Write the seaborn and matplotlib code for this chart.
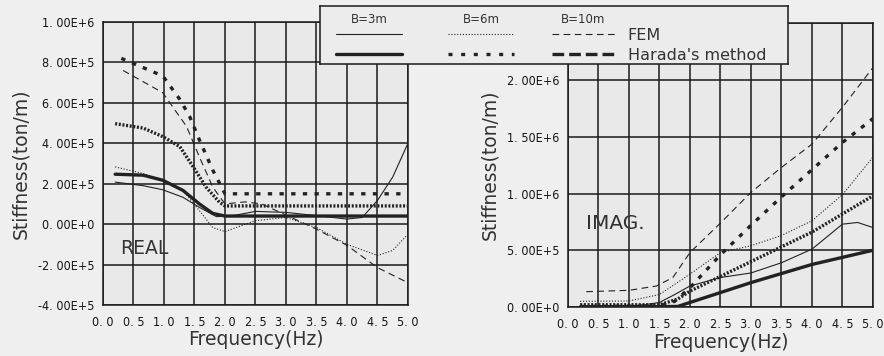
import numpy as np
import seaborn as sns
import matplotlib.pyplot as plt
from matplotlib import font_manager
from matplotlib.ticker import MultipleLocator, FuncFormatter

# ---- data (frequency in Hz, stiffness in ton/m) ----
# REAL part
r_fem3_f = [0.2, 0.66, 0.98, 1.31, 1.58, 1.86, 2.1, 2.5, 3.0, 3.5, 4.0, 4.25, 4.5, 4.75, 5.0]
r_fem3_k = [2.08e5, 1.9e5, 1.7e5, 1.33e5, 0.83e5, 0.37e5, 0.4e5, 0.63e5, 0.58e5, 0.42e5,
            0.25e5, 0.33e5, 1.17e5, 2.33e5, 4.0e5]
r_fem6_f = [0.2, 0.66, 0.98, 1.31, 1.58, 1.8, 2.0, 2.5, 3.0, 3.5, 4.0, 4.5, 4.75, 5.0]
r_fem6_k = [2.83e5, 2.5e5, 2.17e5, 1.67e5, 0.67e5, -0.17e5, -0.37e5, 0.17e5, 0.33e5,
            -0.17e5, -1.0e5, -1.55e5, -1.3e5, -0.5e5]
r_fem10_f = [0.33, 0.98, 1.37, 1.58, 1.8, 2.0, 2.33, 2.6, 3.0, 3.5, 4.0, 4.5, 5.0]
r_fem10_k = [7.6e5, 6.5e5, 4.83e5, 3.33e5, 1.83e5, 1.0e5, 1.1e5, 1.0e5, 0.45e5,
             -0.25e5, -1.05e5, -2.15e5, -2.9e5]
r_har3_f = [0.2, 0.66, 0.98, 1.31, 1.58, 1.8, 2.0, 5.0]
r_har3_k = [2.47e5, 2.42e5, 2.17e5, 1.67e5, 1.0e5, 0.53e5, 0.4e5, 0.4e5]
r_har6_f = [0.2, 0.66, 0.98, 1.26, 1.48, 1.69, 1.91, 2.0, 5.0]
r_har6_k = [4.97e5, 4.75e5, 4.33e5, 3.83e5, 2.83e5, 1.83e5, 1.08e5, 0.9e5, 0.9e5]
r_har10_f = [0.3, 0.98, 1.26, 1.42, 1.58, 1.8, 2.0, 5.0]
r_har10_k = [8.2e5, 7.33e5, 6.17e5, 5.33e5, 4.17e5, 2.67e5, 1.5e5, 1.5e5]

# IMAG part
i_fem3_f = [0.2, 1.2, 1.5, 1.75, 2.0, 2.5, 3.0, 3.5, 4.0, 4.5, 4.75, 5.0]
i_fem3_k = [0.01e6, 0.015e6, 0.04e6, 0.11e6, 0.185e6, 0.26e6, 0.30e6, 0.39e6,
            0.51e6, 0.73e6, 0.745e6, 0.70e6]
i_fem6_f = [0.2, 1.0, 1.5, 2.0, 2.5, 3.0, 3.5, 4.0, 4.5, 5.0]
i_fem6_k = [0.05e6, 0.053e6, 0.11e6, 0.29e6, 0.48e6, 0.54e6, 0.63e6, 0.76e6, 0.99e6, 1.32e6]
i_fem10_f = [0.3, 1.0, 1.45, 1.72, 2.0, 2.5, 3.0, 3.5, 4.0, 4.5, 5.0]
i_fem10_k = [0.135e6, 0.147e6, 0.185e6, 0.26e6, 0.48e6, 0.74e6, 1.01e6, 1.23e6,
             1.435e6, 1.76e6, 2.11e6]
i_har3_f = [0.2, 1.8, 2.0, 3.0, 4.0, 5.0]
i_har3_k = [0.0, 0.005e6, 0.04e6, 0.215e6, 0.375e6, 0.5e6]
i_har6_f = [0.2, 1.5, 1.8, 2.0, 2.5, 3.0, 3.5, 4.0, 4.5, 5.0]
i_har6_k = [0.02e6, 0.02e6, 0.07e6, 0.14e6, 0.27e6, 0.40e6, 0.53e6, 0.66e6, 0.82e6, 0.98e6]
i_har10_f = [0.2, 1.5, 1.75, 2.0, 2.5, 3.0, 3.5, 4.0, 4.5, 5.0]
i_har10_k = [0.005e6, 0.01e6, 0.05e6, 0.17e6, 0.46e6, 0.72e6, 0.97e6, 1.21e6, 1.45e6, 1.66e6]

widths = ["B=3m", "B=6m", "B=10m"]
methods = ["FEM", "Harada's method"]

# ---- styles ----
ink = "#222222"
thin, thick = 0.8, 2.4
fem_styles = ["-", (0, (1, 1.6)), (0, (6, 4))]
har_styles = ["-", (0, (0.6, 0.5)), (0, (1.3, 2.2))]

sns.set_style("white")
plt.rcParams["font.family"] = ["DejaVu Sans"]

# a condensed face for the tick numbers, if one is around
has_cond = any(f.name == "DejaVu Sans" and f.stretch == "condensed"
               for f in font_manager.fontManager.ttflist)
if has_cond:
    tick_kw = dict(family="DejaVu Sans", stretch="condensed", size=9.0)
else:
    tick_kw = dict(family="DejaVu Sans Mono", size=8.0)

fig = plt.figure(figsize=(8.84, 3.56), dpi=100)
fig.patch.set_facecolor("#efefef")
ax_r = fig.add_axes([0.1165, 0.1433, 0.345, 0.795])
ax_i = fig.add_axes([0.6425, 0.1376, 0.345, 0.797])


def sci_fmt(v, pos):
    if abs(v) < 1e-9:
        return "0. 00E+0"
    e = int(np.floor(np.log10(abs(v))))
    m = v / 10 ** e
    return f"{m:.2f}E+{e}".replace(".", ". ")


def freq_fmt(v, pos):
    return f"{v:.1f}".replace(".", ". ")


real_series = [(r_fem3_f, r_fem3_k), (r_fem6_f, r_fem6_k), (r_fem10_f, r_fem10_k)]
real_harada = [(r_har3_f, r_har3_k), (r_har6_f, r_har6_k), (r_har10_f, r_har10_k)]
imag_series = [(i_fem3_f, i_fem3_k), (i_fem6_f, i_fem6_k), (i_fem10_f, i_fem10_k)]
imag_harada = [(i_har3_f, i_har3_k), (i_har6_f, i_har6_k), (i_har10_f, i_har10_k)]

for ax, fem, har in [(ax_r, real_series, real_harada), (ax_i, imag_series, imag_harada)]:
    ax.set_facecolor("#e9e9e9")
    for (f, k), ls in zip(har, har_styles):
        sns.lineplot(x=f, y=k, ax=ax, color=ink, lw=thick, linestyle=ls,
                     sort=False, estimator=None, zorder=3)
    for (f, k), ls in zip(fem, fem_styles):
        sns.lineplot(x=f, y=k, ax=ax, color=ink, lw=thin, linestyle=ls,
                     sort=False, estimator=None, zorder=4)
    ax.set_xlim(0, 5)
    ax.xaxis.set_major_locator(MultipleLocator(0.5))
    ax.xaxis.set_minor_locator(MultipleLocator(0.1))
    ax.xaxis.set_major_formatter(FuncFormatter(freq_fmt))
    ax.yaxis.set_major_formatter(FuncFormatter(sci_fmt))
    ax.grid(True, which="major", color="#1a1a1a", lw=1.1)
    ax.set_axisbelow(True)
    for s in ax.spines.values():
        s.set_color("#1a1a1a")
        s.set_linewidth(1.1)
    ax.tick_params(which="major", direction="out", length=4, width=1.0, color="#1a1a1a",
                   labelcolor="#151515", pad=2)
    ax.tick_params(axis="x", which="major", pad=4)
    ax.tick_params(which="minor", direction="in", length=3, width=0.8, color="#1a1a1a")
    ax.set_xlabel("Frequency(Hz)", fontsize=13.5, color="#333333", labelpad=1)
    ax.set_ylabel("Stiffness(ton/m)", fontsize=13.5, color="#333333", labelpad=6)

ax_r.set_ylim(-4e5, 1e6)
ax_r.yaxis.set_major_locator(MultipleLocator(2e5))
ax_r.yaxis.set_minor_locator(MultipleLocator(5e4))
ax_r.text(0.28, -1.2e5, "REAL", fontsize=13.5, color="#333333", va="center")

ax_i.set_ylim(0, 2.5e6)
ax_i.set_yticks([0, 5e5, 1e6, 1.5e6, 2e6, 2.5e6])
ax_i.yaxis.set_minor_locator(MultipleLocator(1e5))
ax_i.text(0.3, 0.74e6, "IMAG.", fontsize=14.5, color="#333333", va="center")

for ax in (ax_r, ax_i):
    for lab in ax.get_xticklabels() + ax.get_yticklabels():
        lab.set_fontfamily(tick_kw["family"])
        lab.set_fontsize(tick_kw["size"])
        if "stretch" in tick_kw:
            lab.set_fontstretch(tick_kw["stretch"])

# ---- legend box ----
lg = fig.add_axes([0.362, 0.820, 0.529, 0.163], zorder=10)
lg.set_facecolor("#ececec")
lg.set_xlim(0, 1)
lg.set_ylim(0, 1)
lg.set_xticks([])
lg.set_yticks([])
for s in lg.spines.values():
    s.set_color("#1a1a1a")
    s.set_linewidth(1.1)
x_spans = [(0.034, 0.175), (0.274, 0.415), (0.496, 0.630)]
leg_har_styles = ["-", (0, (1.2, 2.6)), (0, (3.5, 1.5))]
for name, (x0, x1), fls, hls in zip(widths, x_spans, fem_styles, leg_har_styles):
    lg.text((x0 + x1) / 2, 0.76, name, ha="center", va="center", fontsize=8.5, color="#333333")
    lg.plot([x0, x1], [0.52, 0.52], color=ink, lw=thin, linestyle=fls)
    lg.plot([x0, x1], [0.17, 0.17], color=ink, lw=thick, linestyle=hls)
lg.text(0.658, 0.50, methods[0], va="center", fontsize=11.5, color="#333333")
lg.text(0.658, 0.15, methods[1], va="center", fontsize=11.5, color="#333333")

fig.savefig("out.png", dpi=100, facecolor=fig.get_facecolor())
